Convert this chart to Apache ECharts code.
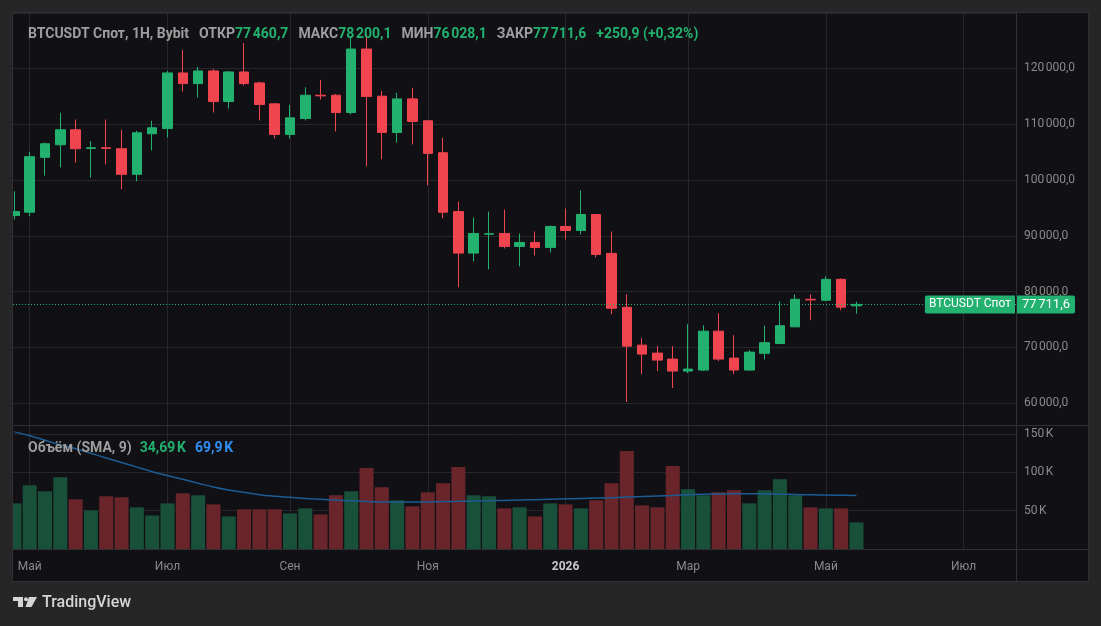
<!DOCTYPE html>
<html><head><meta charset="utf-8">
<script src="https://cdn.jsdelivr.net/npm/echarts@6/dist/echarts.min.js"></script>
<style>html,body{margin:0;padding:0;background:#262626}#c{width:1101px;height:626px}</style>
</head><body><div id="c"></div>
<script>
// ---- DATA (weekly candles) ----
const weeks = ['2025-04-28','2025-05-05','2025-05-12','2025-05-19','2025-05-26','2025-06-02','2025-06-09','2025-06-16','2025-06-23','2025-06-30',
 '2025-07-07','2025-07-14','2025-07-21','2025-07-28','2025-08-04','2025-08-11','2025-08-18','2025-08-25','2025-09-01','2025-09-08',
 '2025-09-15','2025-09-22','2025-09-29','2025-10-06','2025-10-13','2025-10-20','2025-10-27','2025-11-03','2025-11-10','2025-11-17',
 '2025-11-24','2025-12-01','2025-12-08','2025-12-15','2025-12-22','2025-12-29','2026-01-05','2026-01-12','2026-01-19','2026-01-26',
 '2026-02-02','2026-02-09','2026-02-16','2026-02-23','2026-03-02','2026-03-09','2026-03-16','2026-03-23','2026-03-30','2026-04-06',
 '2026-04-13','2026-04-20','2026-04-27','2026-05-04','2026-05-11','2026-05-18'];
const openP  = [93631,94228,104048,106310,108988,105655,105774,105595,101013,108274,
 109227,119167,117262,119524,114048,119345,117381,113631,108155,111012,
 115179,115179,112083,123452,115000,108512,114524,110595,104881,94345,
 86905,90300,90417,88095,88810,87917,91667,90952,93810,86845,
 77202,70417,68988,67917,65774,65952,72917,68095,65952,68950,
 70700,73690,78631,78452,82202,77460.7];
const highP  = [97976,105060,106726,112024,110834,106964,110834,108988,108810,110596,
 119524,123274,120238,119881,119500,124524,117619,113750,113452,116607,
 117917,115417,125774,126131,115952,115595,116488,110774,107560,96131,
 93274,94345,94702,90417,90774,91845,94881,98095,93869,90774,
 79524,71667,70238,70238,74167,73988,76131,72202,69524,73900,
 78300,79524,79524,82738,82381,78200.1];
const lowP   = [92917,93514,100774,102262,103096,100417,102798,98334,99763,105298,
 107619,115833,114762,112083,112798,116905,110655,107440,107440,110655,
 114405,108690,111726,102441,103690,106667,106369,99048,93155,80774,
 85417,83988,87738,84524,86488,87024,89345,90238,86131,75952,
 60238,65238,65774,62738,65417,65800,67560,65238,65900,67850,
 70600,73690,74881,78274,76667,76028.1];
const closeP = [94345,104167,106488,108988,105595,105774,105655,101013,108453,109346,
 119167,117262,119524,114048,119345,117262,113512,108155,111131,115179,
 115060,112083,123452,114940,108512,114524,110476,104762,94226,86905,
 90417,90357,88095,88810,87917,91667,90952,93810,86667,77024,
 70238,68810,67738,65774,66131,72917,67917,65952,69167,70860,
 73900,78631,78512,82202,77202,77711.6];
const volumeK = [59.6,83.3,75.4,93.9,64.9,50.4,68.9,67.5,54.4,43.9,
 59.6,72.8,70.2,58.3,42.5,51.8,51.8,51.8,46.5,53.1,
 45.2,70.2,75.4,105.7,80.7,63.6,55.7,74.1,86.0,107.0,
 70.2,68.9,53.1,54.4,42.5,59.6,58.3,53.1,63.6,86.0,
 128.1,57.0,54.4,108.3,78.1,70.2,74.1,76.8,59.6,76.8,
 91.2,70.2,54.4,53.1,53.1,34.69];
const smaK = [153,148,142,136,131,125,119,113,107,101,
 96,91,86,81,77,74,71,69,67.5,66,
 65,64,63,62,61.5,61.3,61.3,61.5,62,62.3,
 62.7,63,63.5,64,64.5,65,65.5,66,66.5,67,
 67.8,68.5,69.3,70,70.8,71.5,72,72.2,72.2,72,
 71.6,71.2,70.8,70.5,70.2,69.9];
const monthTickIdx = [1,10,18,27,36,44,53,62];
const monthTickLabels = ['Май','Июл','Сен','Ноя','2026','Мар','Май','Июл'];
const volTickK = [50,100,150];
const symbolName = 'BTCUSDT Спот';
const headerPrefix = 'BTCUSDT Спот, 1H, Bybit';

// ---- helpers ----
const NS = '\u202F';
function fmtPrice(v){
  const s = v.toFixed(1); const p = s.split('.');
  return p[0].replace(/\B(?=(\d{3})+(?!\d))/g, NS) + ',' + p[1];
}
function fmtK(v, d){ return v.toFixed(d).replace('.', ',') + NS + 'K'; }

const UP = '#22b16e', DOWN = '#f0444f';
const UPV = '#18503a', DOWNV = '#6a252b';
const BG = '#111115', OUT = '#262626', GRIDC = '#27272b', SEP = '#303034';
const TXT = '#9e9e9e', AX = '#8a8a8a';
const FONT = 'Roboto';

const n = closeP.length;
const last = n - 1;
const candleData = [], volData = [], smaData = [];
for (let i = 0; i < n; i++) {
  candleData.push([i, openP[i], closeP[i], lowP[i], highP[i]]);
  const up = closeP[i] >= openP[i];
  volData.push({ value: [i, volumeK[i] * 1000], itemStyle: { color: up ? UPV : DOWNV } });
  smaData.push([i, smaK[i] * 1000]);
}
const chg = closeP[last] - openP[last];
const chgPct = chg / openP[last] * 100;
const chgTxt = (chg >= 0 ? '+' : '') + chg.toFixed(1).replace('.', ',') + ' (' + (chg >= 0 ? '+' : '') + chgPct.toFixed(2).replace('.', ',') + '%)';

const xMin = -0.09, xMax = 65.42;

const chart = echarts.init(document.getElementById('c'), null, { renderer: 'canvas', width: 1101, height: 626 });

function xAxisCfg(gridIndex, showLabels) {
  return {
    type: 'value', gridIndex, min: xMin, max: xMax,
    axisLine: { show: showLabels, lineStyle: { color: SEP, width: 1 } },
    axisTick: { show: false, customValues: monthTickIdx },
    splitLine: { show: true, lineStyle: { color: GRIDC, width: 1 } },
    axisLabel: {
      show: showLabels, customValues: monthTickIdx, margin: 12,
      color: AX, fontSize: 12, fontFamily: FONT,
      formatter: function (v) {
        const k = monthTickIdx.indexOf(Math.round(v));
        if (k < 0) return '';
        const t = monthTickLabels[k];
        return /^\d{4}$/.test(t) ? '{y|' + t + '}' : t;
      },
      rich: { y: { color: '#c9c9c9', fontWeight: 'bold', fontSize: 12, fontFamily: FONT } }
    }
  };
}

const option = {
  backgroundColor: OUT,
  animation: false,
  textStyle: { fontFamily: FONT },
  title: [
    {
      left: 23, top: 20,
      text: '{g|' + headerPrefix + '}{gs|ОТКР}{v|' + fmtPrice(openP[last]) + '}{gs|МАКС}{v|' + fmtPrice(highP[last]) +
        '}{gs|МИН}{v|' + fmtPrice(lowP[last]) + '}{gs|ЗАКР}{v|' + fmtPrice(closeP[last]) + '}{vs|' + chgTxt + '}',
      textStyle: {
        rich: {
          g: { color: TXT, fontSize: 14, fontFamily: FONT, lineHeight: 18 },
          gs: { color: TXT, fontSize: 14, fontFamily: FONT, lineHeight: 18, padding: [0, 0, 0, 10] },
          v: { color: UP, fontSize: 14, fontFamily: FONT, lineHeight: 18 },
          vs: { color: UP, fontSize: 14, fontFamily: FONT, lineHeight: 18, padding: [0, 0, 0, 10] }
        }
      }
    },
    {
      left: 23, top: 434,
      text: '{g|Объём (SMA, 9)}{v|' + fmtK(volumeK[last], 2) + '}{b|' + fmtK(smaK[last], 1) + '}',
      textStyle: {
        rich: {
          g: { color: TXT, fontSize: 14, fontFamily: FONT, lineHeight: 18 },
          v: { color: UP, fontSize: 14, fontFamily: FONT, lineHeight: 18, padding: [0, 0, 0, 8] },
          b: { color: '#2f8ff2', fontSize: 14, fontFamily: FONT, lineHeight: 18, padding: [0, 0, 0, 9] }
        }
      }
    }
  ],
  graphic: [
    { type: 'rect', z: -10, shape: { x: 12.5, y: 12.5, width: 1076, height: 569 }, style: { fill: BG, stroke: SEP, lineWidth: 1 } },
    { type: 'line', z: 10, shape: { x1: 13, y1: 425.5, x2: 1089, y2: 425.5 }, style: { stroke: SEP, lineWidth: 1 } },
    { type: 'line', z: 10, shape: { x1: 13, y1: 549.5, x2: 1089, y2: 549.5 }, style: { stroke: SEP, lineWidth: 1 } },
    { type: 'line', z: 10, shape: { x1: 1016.5, y1: 13, x2: 1016.5, y2: 582 }, style: { stroke: SEP, lineWidth: 1 } },
    { type: 'rect', z: 100, shape: { x: 0, y: 0, width: 12.5, height: 626 }, style: { fill: OUT } },
    { type: 'line', z: 101, shape: { x1: 12.5, y1: 12.5, x2: 12.5, y2: 582 }, style: { stroke: SEP, lineWidth: 1 } },
    { type: 'group', left: 13, top: 597, children: [
      { type: 'rect', shape: { x: 0, y: 0, width: 10, height: 4 }, style: { fill: '#d6d6d6' } },
      { type: 'rect', shape: { x: 5, y: 0, width: 5, height: 10 }, style: { fill: '#d6d6d6' } },
      { type: 'circle', shape: { cx: 13, cy: 2.2, r: 2 }, style: { fill: '#d6d6d6' } },
      { type: 'polygon', shape: { points: [[16, 0], [24, 0], [18.5, 10], [12.5, 10]] }, style: { fill: '#d6d6d6' } }
    ]},
    { type: 'text', left: 42, top: 595, style: { text: 'TradingView', fill: '#d6d6d6', font: '500 16px Roboto' } }
  ],
  grid: [
    { left: 13, top: 13, width: 1003, height: 412, containLabel: false },
    { left: 13, top: 425, width: 1003, height: 124, containLabel: false }
  ],
  xAxis: [xAxisCfg(0, false), xAxisCfg(1, true)],
  yAxis: [
    {
      type: 'value', gridIndex: 0, position: 'right', min: 56113, max: 129905,
      minInterval: 10000, maxInterval: 10000, splitNumber: 7, scale: true,
      axisLine: { show: false }, axisTick: { show: false },
      splitLine: { show: true, lineStyle: { color: GRIDC, width: 1 } },
      axisLabel: {
        margin: 8, color: AX, fontSize: 12, fontFamily: FONT, showMinLabel: false, showMaxLabel: false,
        formatter: function (v) { return (v % 10000 === 0) ? fmtPrice(v) : ''; }
      }
    },
    {
      type: 'value', gridIndex: 1, position: 'right', min: 0, max: 162000, interval: 50000,
      axisLine: { show: false }, axisTick: { show: false },
      splitLine: { show: true, lineStyle: { color: GRIDC, width: 1 } },
      axisLabel: {
        margin: 8, color: AX, fontSize: 12, fontFamily: FONT, showMinLabel: false,
        formatter: function (v) { const k = v / 1000; return volTickK.indexOf(k) >= 0 ? k + NS + 'K' : ''; }
      }
    }
  ],
  series: [
    {
      type: 'bar', name: 'Объём', xAxisIndex: 1, yAxisIndex: 1, data: volData, barWidth: 14, z: 2
    },
    {
      type: 'line', name: 'SMA 9', xAxisIndex: 1, yAxisIndex: 1, data: smaData, smooth: 0.4,
      showSymbol: false, symbol: 'none', lineStyle: { color: '#1d5b93', width: 1.5 }, z: 3
    },
    {
      type: 'candlestick', name: 'BTCUSDT', xAxisIndex: 0, yAxisIndex: 0, data: candleData,
      encode: { x: 0, y: [1, 2, 3, 4] }, barWidth: 10, clip: true,
      itemStyle: { color: UP, color0: DOWN, borderColor: UP, borderColor0: DOWN, borderWidth: 1 },
      markLine: {
        silent: true, symbol: ['none', 'none'], animation: false,
        lineStyle: { color: UP, type: [1, 2], width: 1 },
        data: [
          { yAxis: closeP[last], label: { show: true, position: 'end', distance: 1, formatter: fmtPrice(closeP[last]),
              color: '#ffffff', fontSize: 13, fontFamily: FONT, fontWeight: 'normal', backgroundColor: UP, padding: [3, 5, 2, 5], borderRadius: [0, 2, 2, 0] } },
          { yAxis: closeP[last], label: { show: true, position: 'insideEnd', distance: 1, formatter: symbolName,
              color: '#ffffff', fontSize: 12, lineHeight: 13, fontFamily: FONT, fontWeight: 'normal', backgroundColor: UP, padding: [3, 4, 2, 4], borderRadius: [2, 0, 0, 2] } }
        ]
      }
    }
  ]
};
chart.setOption(option);
</script>
</body></html>
